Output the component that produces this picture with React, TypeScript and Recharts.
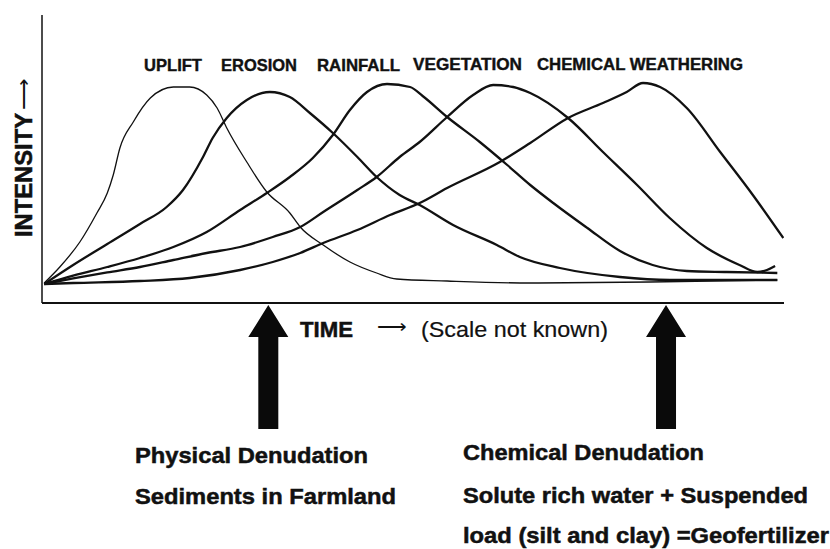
import { LineChart, Line, XAxis, YAxis, ReferenceDot } from 'recharts'

type Pt = { t: number; v: number }
const pts = (rows: number[][]): Pt[] => rows.map(([t, v]) => ({ t, v }))

// time (0-100, scale unknown) vs relative intensity
const uplift = pts([
  [0.3, 0.5], [2.4, 8.5], [5.1, 21], [7.4, 35.5], [8.8, 45.5], [9.6, 54.5], [10.5, 68],
  [12.3, 81], [14.6, 93], [17.7, 98.5], [19.9, 98.5], [22.2, 94.5], [23.6, 88], [24.9, 78],
  [27.6, 61], [30.3, 46], [33.4, 35.5], [34.8, 28.5], [37.9, 19.5], [41.5, 11], [45.1, 5.5],
  [47.8, 2.5], [54.6, 1.5], [65.8, 0.5], [81.9, 1], [99.1, 2],
])

const erosion = pts([
  [0.3, 0], [4.2, 9.5], [8.8, 20], [13.2, 30], [16.8, 38.5], [19.0, 47], [21.7, 63.5],
  [23.0, 73], [24.9, 83], [27.6, 92], [30.7, 96], [33.4, 93.5], [36.1, 85.5], [39.2, 75.5],
  [42.5, 63.5], [45.1, 53.5], [48.2, 44.5], [50.9, 39.5], [55.4, 29.5], [61.3, 19.5],
  [64.4, 13.5], [69.8, 8], [77.9, 3.5], [84.6, 2], [99.1, 2],
])

const rainfall = pts([
  [0.3, 0], [4.2, 4.2], [8.8, 8.5], [13.2, 13], [17.7, 18.5], [22.2, 26], [26.7, 37],
  [30.3, 45.5], [33.4, 53.5], [36.5, 63], [39.2, 74.5], [41.5, 87], [43.8, 96], [46.5, 100],
  [49.6, 98.5], [51.3, 94], [54.6, 83.5], [59.0, 71], [62.7, 59.5], [65.8, 49.5], [68.9, 40.5],
  [73.5, 28], [77.9, 16.5], [82.3, 9.5], [86.9, 6.5], [92.3, 6], [99.1, 5.5],
])

const vegetation = pts([
  [0.3, 0], [4.2, 2.8], [8.8, 5.8], [13.2, 8.5], [17.7, 12], [22.2, 15.5], [26.7, 18.5],
  [31.1, 23.5], [34.8, 28.5], [37.9, 36], [42.5, 47], [45.1, 53.5], [48.2, 63.5], [50.9, 71],
  [54.6, 83.5], [58.1, 94.5], [60.8, 99.5], [63.5, 98.5], [65.8, 95.5], [70.9, 83], [75.6, 66],
  [80.2, 49.5], [84.6, 33], [89.6, 18], [94.0, 9.5], [96.4, 6], [97.7, 7], [98.8, 9],
])

const chemical = pts([
  [0.3, 0], [4.2, 0.5], [13.2, 1.5], [19.9, 3], [26.7, 7], [31.1, 11], [34.8, 15.5],
  [37.9, 20.5], [42.5, 27], [46.9, 34.5], [50.9, 40.5], [54.6, 48], [61.7, 61], [65.8, 70.5],
  [70.9, 83], [75.6, 90.5], [78.8, 96], [81.0, 100.5], [83.3, 98.5], [86.9, 88], [91.4, 66],
  [95.8, 44.5], [99.9, 23],
])

const seriesNames = ['UPLIFT', 'EROSION', 'RAINFALL', 'VEGETATION', 'CHEMICAL WEATHERING']
// where the two denudation arrows point on the time axis
const denudationTimes = [30.5, 84.1]

const FONT = "'Liberation Sans', Arial, Helvetica, sans-serif"
const INK = '#111'

function UpArrow(props: any) {
  const { cx, cy } = props
  if (cx == null || cy == null) return null
  const tip = cy + 2
  const base = cy + 34
  const end = cy + 126
  const d = `M${cx},${tip} L${cx + 20},${base} L${cx + 10},${base} L${cx + 10},${end} L${cx - 10},${end} L${cx - 10},${base} L${cx - 20},${base} Z`
  return <path d={d} fill="#0a0a0a" />
}

export default function App() {
  const lines = [
    { name: seriesNames[0], data: uplift, w: 1.3 },
    { name: seriesNames[1], data: erosion, w: 2.3 },
    { name: seriesNames[2], data: rainfall, w: 2.3 },
    { name: seriesNames[3], data: vegetation, w: 2.3 },
    { name: seriesNames[4], data: chemical, w: 2.3 },
  ]

  const bold = { fontWeight: 'bold' as const, stroke: INK, strokeWidth: 0.5 }

  return (
    <div style={{ position: 'absolute', left: 0, top: 0, width: 830, height: 549, background: '#fff' }}>
      <LineChart width={830} height={549} margin={{ top: 15, right: 46, bottom: 244, left: 40 }}>
        <XAxis
          type="number"
          dataKey="t"
          domain={[0, 100]}
          allowDataOverflow
          tick={false}
          tickLine={false}
          height={2}
          axisLine={{ stroke: INK, strokeWidth: 2 }}
        />
        <YAxis
          type="number"
          dataKey="v"
          domain={[-9.5, 134.5]}
          allowDataOverflow
          tick={false}
          tickLine={false}
          width={2}
          axisLine={{ stroke: INK, strokeWidth: 1.5 }}
        />
        {lines.map((l) => (
          <Line
            key={l.name}
            name={l.name}
            data={l.data}
            dataKey="v"
            type="monotone"
            stroke={INK}
            strokeWidth={l.w}
            dot={false}
            activeDot={false}
            isAnimationActive={false}
          />
        ))}
        {denudationTimes.map((t) => (
          <ReferenceDot key={t} x={t} y={-9.5} r={0} ifOverflow="visible" shape={UpArrow} />
        ))}
      </LineChart>

      <svg
        width={830}
        height={549}
        style={{ position: 'absolute', left: 0, top: 0, pointerEvents: 'none' }}
        fontFamily={FONT}
        fill={INK}
      >
        {/* curve names */}
        <g fontSize={16.5} {...bold} strokeWidth={0.4}>
          <text x={144} y={71} textLength={58} lengthAdjust="spacingAndGlyphs">{seriesNames[0]}</text>
          <text x={221} y={71} textLength={76} lengthAdjust="spacingAndGlyphs">{seriesNames[1]}</text>
          <text x={317} y={71} textLength={83} lengthAdjust="spacingAndGlyphs">{seriesNames[2]}</text>
          <text x={413} y={70} textLength={109} lengthAdjust="spacingAndGlyphs">{seriesNames[3]}</text>
          <text x={537} y={70} textLength={206} lengthAdjust="spacingAndGlyphs">{seriesNames[4]}</text>
        </g>

        {/* y axis title */}
        <g transform="translate(32,237) rotate(-90)">
          <text x={0} y={0} fontSize={23} {...bold} textLength={124} lengthAdjust="spacingAndGlyphs">
            INTENSITY
          </text>
          <text x={127} y={-2} fontSize={20} textLength={32} lengthAdjust="spacingAndGlyphs">⟶</text>
        </g>

        {/* x axis title */}
        <text x={300} y={337} fontSize={22} {...bold} textLength={53} lengthAdjust="spacingAndGlyphs">TIME</text>
        <text x={377} y={333} fontSize={20} textLength={30} lengthAdjust="spacingAndGlyphs">⟶</text>
        <text x={421} y={337} fontSize={22} stroke={INK} strokeWidth={0.2} textLength={187} lengthAdjust="spacingAndGlyphs">
          (Scale not known)
        </text>

        {/* arrow captions */}
        <g fontSize={22} {...bold}>
          <text x={135} y={463} textLength={233} lengthAdjust="spacingAndGlyphs">Physical Denudation</text>
          <text x={135} y={504} textLength={261} lengthAdjust="spacingAndGlyphs">Sediments in Farmland</text>
          <text x={463} y={460} textLength={241} lengthAdjust="spacingAndGlyphs">Chemical Denudation</text>
          <text x={463} y={503} textLength={345} lengthAdjust="spacingAndGlyphs">Solute rich water + Suspended</text>
          <text x={463} y={543} textLength={366} lengthAdjust="spacingAndGlyphs">load (silt and clay) =Geofertilizer</text>
        </g>
      </svg>
    </div>
  )
}
